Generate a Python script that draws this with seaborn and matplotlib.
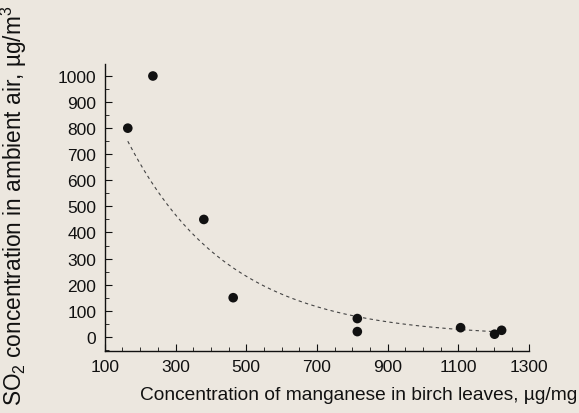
import numpy as np
import pandas as pd
import matplotlib
matplotlib.use("Agg")
import matplotlib.pyplot as plt
import seaborn as sns
from matplotlib.ticker import MultipleLocator

# Data
manganese = [165, 236, 380, 463, 814, 814, 1106, 1202, 1222]
so2 = [800, 1000, 450, 150, 70, 20, 35, 10, 25]

# Fitted exponential trend
fit_start_x = 165
fit_end_x = 1222
fit_start_y = 750
fit_rate = 0.0035

x_tick_labels = [100, 300, 500, 700, 900, 1100, 1300]
y_tick_labels = [0, 100, 200, 300, 400, 500, 600, 700, 800, 900, 1000]

sns.set_theme(style="ticks")
bg = "#ece7df"
plt.rcParams["font.family"] = ["Liberation Sans", "DejaVu Sans"]
plt.rcParams["mathtext.fontset"] = "custom"
plt.rcParams["mathtext.rm"] = "Liberation Sans"
plt.rcParams["mathtext.it"] = "Liberation Sans"

fig = plt.figure(figsize=(5.79, 4.14), dpi=100, facecolor=bg)
ax = fig.add_axes([0.181, 0.150, 0.733, 0.693])
ax.set_facecolor(bg)

df = pd.DataFrame({"Mn": manganese, "SO2": so2})
fx = np.linspace(fit_start_x, fit_end_x, 200)
fy = fit_start_y * np.exp(-fit_rate * (fx - fit_start_x))
fit_df = pd.DataFrame({"Mn": fx, "SO2": fy})

sns.lineplot(data=fit_df, x="Mn", y="SO2", ax=ax, color="#444444",
             linestyle=(0, (3, 3)), linewidth=0.8)
sns.scatterplot(data=df, x="Mn", y="SO2", ax=ax, color="#111111",
                s=48, edgecolor="none", zorder=3)

ax.set_xlim(100, 1300)
ax.set_ylim(-54, 1046)
ax.set_xticks(x_tick_labels, labels=[str(v) for v in x_tick_labels])
ax.xaxis.set_minor_locator(MultipleLocator(50))
ax.set_yticks(y_tick_labels, labels=[str(v) for v in y_tick_labels])
ax.yaxis.set_minor_locator(MultipleLocator(50))

for s in ["top", "right"]:
    ax.spines[s].set_visible(False)
for s in ["left", "bottom"]:
    ax.spines[s].set_linewidth(1.0)
    ax.spines[s].set_color("#111111")

ax.tick_params(axis="both", which="major", direction="in", length=5, width=0.8,
               labelsize=12.5, colors="#111111", pad=6)
ax.tick_params(axis="both", which="minor", direction="in", length=3, width=0.6,
               colors="#111111")

ax.set_xlabel("Concentration of manganese in birch leaves, µg/mg", fontsize=13.8,
              color="#111111")
ax.set_ylabel("SO$_2$ concentration in ambient air, µg/m$^3$", fontsize=16.3,
              color="#111111")
ax.xaxis.set_label_coords(0.597, -0.122)
ax.yaxis.set_label_coords(-0.178, 0.509)

fig.savefig("out.png", dpi=100, facecolor=bg)
